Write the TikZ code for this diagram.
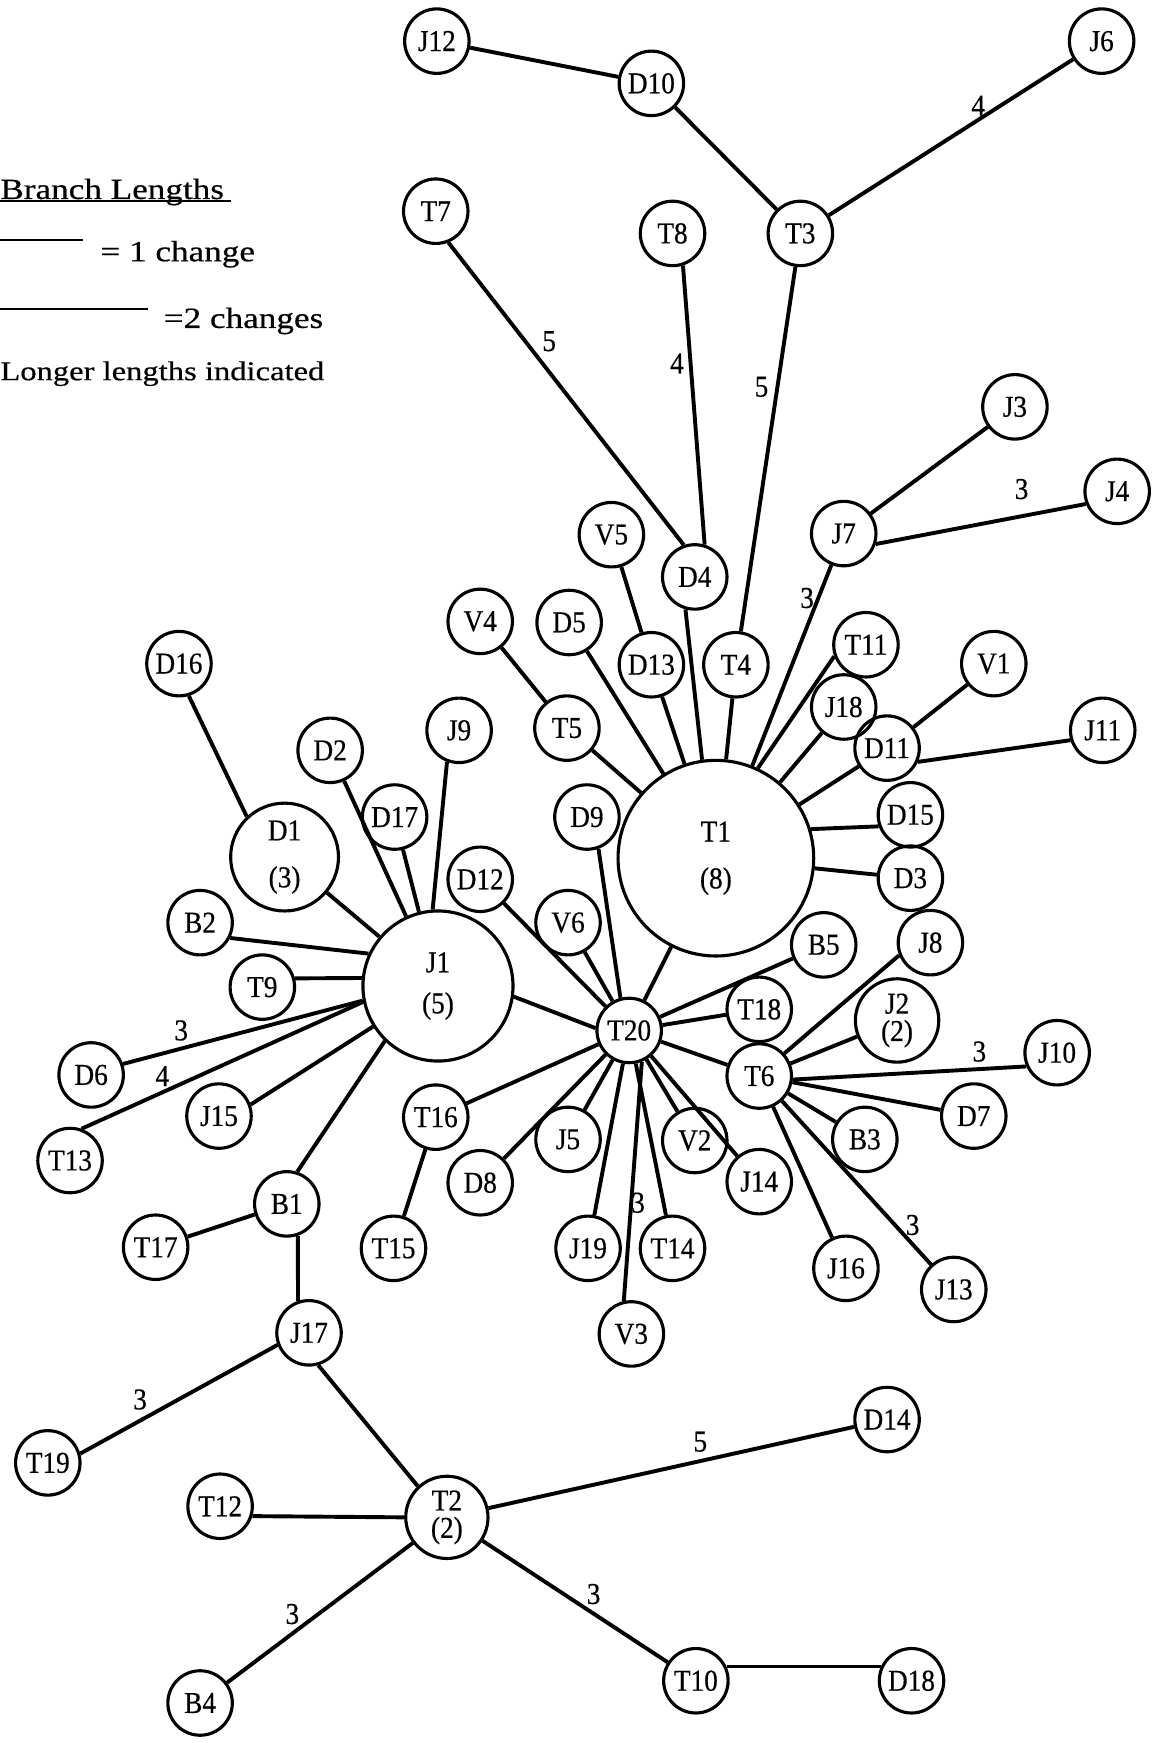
\documentclass[tikz,border=0pt]{standalone}
\usepackage{fontspec}
\setmainfont{Liberation Serif}
\newfontfamily\labfont[FakeStretch=0.9, FakeBold=0.5]{Liberation Serif}
\newfontfamily\legfont[FakeStretch=1.2, FakeBold=0.5]{Liberation Serif}

\begin{document}
\begin{tikzpicture}[x=0.2mm, y=-0.2mm,
  taxon/.style={draw, circle, line width=1.6pt, minimum size=11.6mm, inner sep=0pt,
    align=center, font=\labfont\fontsize{15.5}{17}\selectfont},
  branch/.style={line width=2pt},
  num/.style={inner sep=0pt, font=\labfont\fontsize{15.5}{17}\selectfont},
  legend/.style={inner sep=0pt, anchor=base west, font=\legfont\fontsize{15}{17}\selectfont},
  legline/.style={line width=1.3pt}]
  \useasboundingbox (0,0) rectangle (1046,1568);

  % legend
  \node[legend] (lgtitle) at (0,179) {Branch Lengths};
  \draw[line width=0.9pt] ([yshift=-1pt]lgtitle.base west) -- ++(208,0);
  \draw[legline] (0,216) -- (75,216);
  \node[legend] (lgone) at (90,235) {= 1 change};
  \draw[legline] (0,278) -- (133,278);
  \node[legend] (lgtwo) at (147,295) {=2 changes};
  \node[legend, font=\legfont\fontsize{13.9}{17}\selectfont] (lglong) at (0,342) {Longer lengths indicated};

  % top group
  \node[taxon] (J12) at (393,37) {J12};
  \node[taxon] (D10) at (586,75) {D10};
  \node[taxon] (J6) at (991,37) {J6};
  \node[taxon] (T7) at (392,190) {T7};
  \node[taxon] (T8) at (605,210) {T8};
  \node[taxon] (T3) at (720,210) {T3};
  \node[taxon] (J3) at (913,366) {J3};
  \node[taxon] (J4) at (1005,442) {J4};
  \node[taxon] (J7) at (759,480) {J7};
  \node[taxon] (V5) at (550,481) {V5};
  \node[taxon] (D4) at (625,519) {D4};
  \node[taxon] (V4) at (432,559) {V4};
  \node[taxon] (D5) at (512,560) {D5};
  \node[taxon] (D13) at (586,598) {D13};
  \node[taxon] (T4) at (662,598) {T4};
  \node[taxon] (T11) at (779,580) {T11};
  \node[taxon] (V1) at (894,597) {V1};
  \node[taxon] (J18) at (759,636) {J18};
  \node[taxon] (D11) at (798,673) {D11};
  \node[taxon] (J11) at (992,657) {J11};
  \node[taxon] (T5) at (510,655) {T5};
  \node[taxon] (D9) at (528,735) {D9};
  \node[taxon, minimum size=35.2mm] (T1) at (644,772) {T1\\[7pt](8)};
  \node[taxon] (D15) at (819,733) {D15};
  \node[taxon] (D3) at (819,790) {D3};

  % J1 group
  \node[taxon] (D16) at (161,597) {D16};
  \node[taxon] (D2) at (297,675) {D2};
  \node[taxon] (J9) at (413,657) {J9};
  \node[taxon] (D17) at (355,735) {D17};
  \node[taxon, minimum size=19.4mm] (D1) at (256,771) {D1\\[7pt](3)};
  \node[taxon] (D12) at (432,791) {D12};
  \node[taxon] (B2) at (180,830) {B2};
  \node[taxon] (V6) at (511,830) {V6};
  \node[taxon, minimum size=27mm] (J1) at (394,887) {J1\\[4pt](5)};
  \node[taxon] (T9) at (236,888) {T9};
  \node[taxon] (D6) at (82,967) {D6};
  \node[taxon] (J15) at (197,1004) {J15};
  \node[taxon] (T13) at (63,1044) {T13};
  \node[taxon] (B1) at (258,1083) {B1};
  \node[taxon] (T17) at (140,1122) {T17};

  % T20 and T6 group
  \node[taxon] (B5) at (741,850) {B5};
  \node[taxon] (J8) at (837,848) {J8};
  \node[taxon] (T18) at (683,908) {T18};
  \node[taxon, minimum size=15mm] (J2) at (807,918) {J2\\[-3pt](2)};
  \node[taxon] (T20) at (566,927) {T20};
  \node[taxon] (T6) at (683,968) {T6};
  \node[taxon] (J10) at (951,947) {J10};
  \node[taxon] (D7) at (876,1004) {D7};
  \node[taxon] (T16) at (392,1005) {T16};
  \node[taxon] (J5) at (511,1025) {J5};
  \node[taxon] (V2) at (625,1026) {V2};
  \node[taxon] (B3) at (778,1025) {B3};
  \node[taxon] (D8) at (432,1064) {D8};
  \node[taxon] (J14) at (683,1063) {J14};
  \node[taxon] (T15) at (354,1123) {T15};
  \node[taxon] (J19) at (529,1123) {J19};
  \node[taxon] (T14) at (605,1123) {T14};
  \node[taxon] (J16) at (761,1141) {J16};
  \node[taxon] (J13) at (858,1160) {J13};
  \node[taxon] (V3) at (568,1200) {V3};

  % bottom group
  \node[taxon] (J17) at (278,1199) {J17};
  \node[taxon] (D14) at (798,1277) {D14};
  \node[taxon] (T19) at (43,1316) {T19};
  \node[taxon] (T12) at (198,1355) {T12};
  \node[taxon, minimum size=14.8mm] (T2) at (402,1365) {T2\\[-3pt](2)};
  \node[taxon] (T10) at (626,1512) {T10};
  \node[taxon] (D18) at (820,1512) {D18};
  \node[taxon] (B4) at (180,1532) {B4};

  % branches
  \draw[branch] (J12) -- (D10);
  \draw[branch] (D10) -- (T3);
  \draw[branch] (T3) -- (J6);
  \draw[branch] (T3) -- (T4);
  \draw[branch] (T7.-68) -- (D4.109);
  \draw[branch] (T8.-72) -- (D4.73);
  \draw[branch] (J7) -- (J3);
  \draw[branch] (J7.-18) -- (J4.202);
  \draw[branch] (V5) -- (D13);
  \draw[branch] (V4) -- (T5);
  \draw[branch] (D11) -- (V1);
  \draw[branch] (D11.-24) -- (J11.197);
  \draw[branch] (T1) -- (T5);
  \draw[branch] (T1) -- (D5);
  \draw[branch] (T1) -- (D13);
  \draw[branch] (T1.98) -- (D4.-106);
  \draw[branch] (T1) -- (T4);
  \draw[branch] (T1) -- (J7);
  \draw[branch] (T1.65) -- (T11.200);
  \draw[branch] (T1) -- (J18);
  \draw[branch] (T1) -- (D11);
  \draw[branch] (T1.17) -- (D15.200);
  \draw[branch] (T1) -- (D3);
  \draw[branch] (T1) -- (T20);

  \draw[branch] (D16.-73) -- (D1.133);
  \draw[branch] (J1) -- (D1);
  \draw[branch] (J1) -- (D2);
  \draw[branch] (J1) -- (D17);
  \draw[branch] (J1.94) -- (J9.249);
  \draw[branch] (J1.155) -- (B2.-27);
  \draw[branch] (J1.174) -- (T9.15);
  \draw[branch] (J1.191) -- (D6.19);
  \draw[branch] (J1.192) -- (T13.70);
  \draw[branch] (J1.212) -- (J15.20);
  \draw[branch] (J1.226) -- (B1.72);
  \draw[branch] (J1.-8) -- (T20.176);
  \draw[branch] (B1) -- (T17);
  \draw[branch] (B1.-71) -- (J17.109);

  \draw[branch] (T20.105) -- (D9.-70);
  \draw[branch] (T20) -- (D12);
  \draw[branch] (T20) -- (V6);
  \draw[branch] (T20) -- (B5);
  \draw[branch] (T20) -- (T18);
  \draw[branch] (T20) -- (T6);
  \draw[branch] (T20) -- (T16);
  \draw[branch] (T20) -- (D8);
  \draw[branch] (T20) -- (J5);
  \draw[branch] (T20) -- (J19);
  \draw[branch] (T20.-68) -- (V3.103);
  \draw[branch] (T20) -- (T14);
  \draw[branch] (T20) -- (V2);
  \draw[branch] (T20) -- (J14);
  \draw[branch] (T16) -- (T15);
  \draw[branch] (T6.42) -- (J8.202);
  \draw[branch] (T6) -- (J2);
  \draw[branch] (T6.-6) -- (J10.204);
  \draw[branch] (T6) -- (D7);
  \draw[branch] (T6) -- (B3);
  \draw[branch] (T6) -- (J16);
  \draw[branch] (T6) -- (J13);

  \draw[branch] (J17.201) -- (T19.16);
  \draw[branch] (J17.-74) -- (T2.133);
  \draw[branch] (T2.west) -- (T12.-17);
  \draw[branch] (T2) -- (D14);
  \draw[branch] (T2) -- (B4);
  \draw[branch] (T2) -- (T10);
  \draw[branch] (T10.25) -- (D18.155);

  % longer branch lengths
  \node[num] (nJ6) at (880,95) {4};
  \node[num] (nT7) at (494,307) {5};
  \node[num] (nT8) at (609,327) {4};
  \node[num] (nT3) at (685,348) {5};
  \node[num] (nJ4) at (919,440) {3};
  \node[num] (nJ7) at (726,538) {3};
  \node[num] (nD6) at (163,927) {3};
  \node[num] (nT13) at (146,968) {4};
  \node[num] (nJ10) at (881,946) {3};
  \node[num] (nV3) at (574,1082) {3};
  \node[num] (nJ13) at (821,1102) {3};
  \node[num] (nT19) at (126,1259) {3};
  \node[num] (nD14) at (630,1297) {5};
  \node[num] (nB4) at (263,1452) {3};
  \node[num] (nT10) at (534,1434) {3};
\end{tikzpicture}
\end{document}
